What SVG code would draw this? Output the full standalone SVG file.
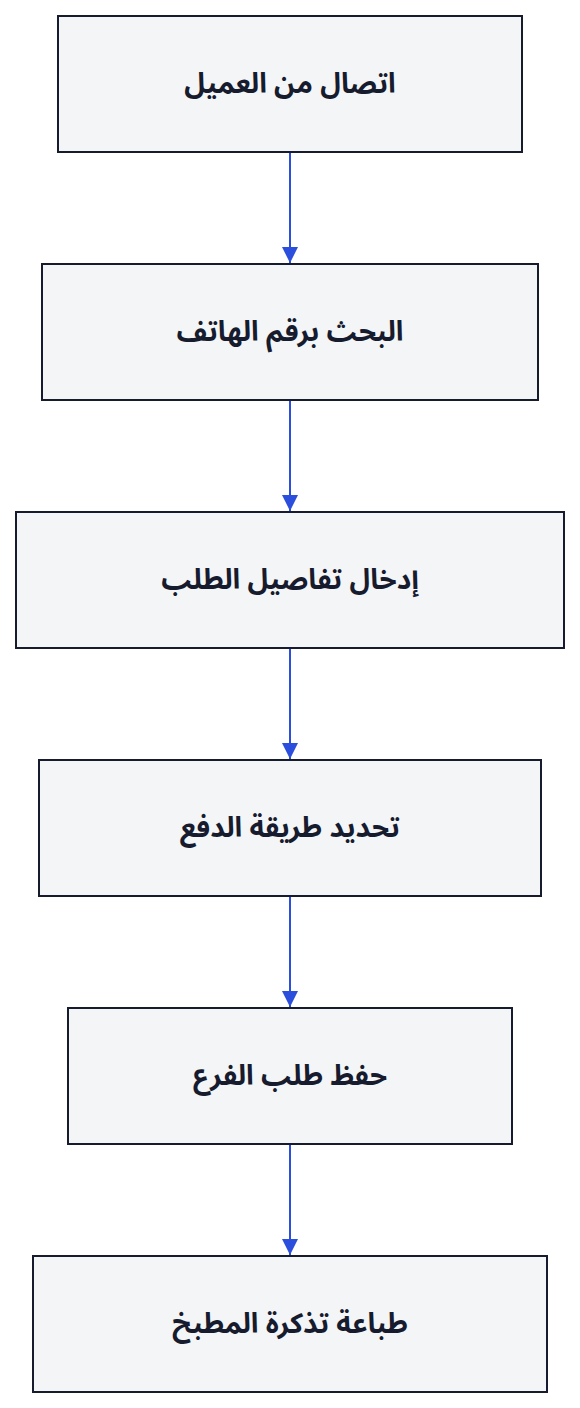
<svg xmlns="http://www.w3.org/2000/svg" width="580" height="1408" viewBox="0 0 580 1408">
<defs>
<style>
.box{fill:#f4f5f7;stroke:#161b2e;stroke-width:2}
.lbl{font-family:"Noto Sans Arabic","Noto Sans","DejaVu Sans",sans-serif;font-size:28px;font-weight:bold;fill:#161b2e;text-anchor:middle;dominant-baseline:central}
.edge{stroke:#2b4fdc;stroke-width:2;fill:none}
</style>
<marker id="ah" viewBox="0 0 16 16" refX="16" refY="8" markerWidth="16" markerHeight="16" markerUnits="userSpaceOnUse" orient="auto">
<path d="M0,0 L16,8 L0,16 Z" fill="#2b4fdc"/>
</marker>
</defs>
<rect width="580" height="1408" fill="#ffffff"/>
<g id="connectors">
<line class="edge" x1="290" y1="152" x2="290" y2="263" marker-end="url(#ah)"/>
<line class="edge" x1="290" y1="400" x2="290" y2="511" marker-end="url(#ah)"/>
<line class="edge" x1="290" y1="648" x2="290" y2="759" marker-end="url(#ah)"/>
<line class="edge" x1="290" y1="896" x2="290" y2="1007" marker-end="url(#ah)"/>
<line class="edge" x1="290" y1="1144" x2="290" y2="1255" marker-end="url(#ah)"/>
</g>
<g id="n1"><rect class="box" x="58" y="16" width="464" height="136"/><text class="lbl" x="290" y="84" direction="rtl">اتصال من العميل</text></g>
<g id="n2"><rect class="box" x="42" y="264" width="496" height="136"/><text class="lbl" x="290" y="332" direction="rtl">البحث برقم الهاتف</text></g>
<g id="n3"><rect class="box" x="16" y="512" width="548" height="136"/><text class="lbl" x="290" y="580" direction="rtl">إدخال تفاصيل الطلب</text></g>
<g id="n4"><rect class="box" x="39" y="760" width="502" height="136"/><text class="lbl" x="290" y="828" direction="rtl">تحديد طريقة الدفع</text></g>
<g id="n5"><rect class="box" x="68" y="1008" width="444" height="136"/><text class="lbl" x="290" y="1076" direction="rtl">حفظ طلب الفرع</text></g>
<g id="n6"><rect class="box" x="33" y="1256" width="514" height="136"/><text class="lbl" x="290" y="1324" direction="rtl">طباعة تذكرة المطبخ</text></g>
</svg>
